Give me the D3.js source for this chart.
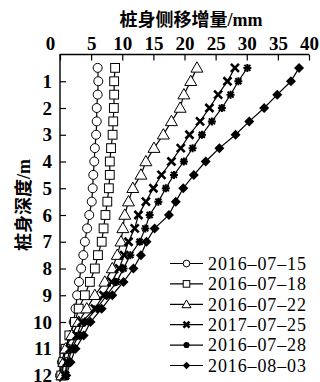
<!DOCTYPE html>
<html>
<head>
<meta charset="utf-8">
<script src="https://cdn.jsdelivr.net/npm/d3@7"></script>
<style>
    body { margin: 0; background: #fff; }
    svg { display: block; }
</style>
</head>
<body>
<div id="chart"></div>
<script>
const WIDTH = 320;
const HEIGHT = 382;

// depth below pile top (m)
const depths = [0.5, 1, 1.5, 2, 2.5, 3, 3.5, 4, 4.5, 5, 5.5, 6,
    6.5, 7, 7.5, 8, 8.5, 9, 9.5, 10, 10.5, 11, 11.5, 12];

const seriesNames = ["2016\u201307\u201315", "2016\u201307\u201318", "2016\u201307\u201322",
    "2017\u201307\u201325", "2016\u201307\u201328", "2016\u201308\u201303"];

// lateral displacement increment (mm) per depth
const s0715 = [6.05, 6.15, 6.05, 5.9, 5.9, 5.8, 5.6, 5.5, 5.35, 5.25, 5.1, 4.7,
    4.35, 4.0, 3.75, 3.4, 3.05, 2.75, 2.5, 2.2, 1.6, 0.8, 0.3, 0.0];
const s0718 = [8.85, 8.7, 8.7, 8.65, 8.55, 8.45, 8.2, 8.0, 8.0, 7.85, 7.6, 7.3,
    7.0, 6.7, 6.1, 5.6, 4.8, 4.0, 3.0, 2.4, 1.5, 0.9, 0.5, 0.2];
const s0722 = [22.0, 21.0, 19.9, 19.3, 17.9, 16.6, 15.1, 13.8, 13.0, 11.7, 11.0, 10.4,
    10.1, 9.8, 9.2, 8.4, 7.2, 5.6, 4.3, 3.0, 1.9, 0.9, 0.6, 0.3];
const s0725 = [28.1, 26.9, 25.4, 24.0, 22.5, 20.8, 19.4, 17.9, 16.3, 15.0, 13.8, 12.6,
    12.0, 11.0, 10.3, 9.5, 8.3, 7.0, 5.6, 3.5, 2.7, 1.6, 1.1, 0.8];
const s0728 = [30.1, 28.65, 27.4, 26.0, 24.4, 22.8, 21.3, 19.9, 18.3, 17.0, 15.8, 14.4,
    13.7, 12.8, 11.3, 10.2, 9.1, 7.5, 5.9, 4.0, 3.0, 1.9, 1.3, 0.9];
const s0803 = [38.4, 37.1, 34.9, 32.8, 30.4, 28.2, 25.6, 23.4, 21.5, 19.8, 18.6, 17.5,
    15.2, 13.9, 13.0, 11.8, 10.2, 8.4, 6.7, 4.9, 3.8, 2.5, 1.7, 1.0];

const xTicks = [0, 5, 10, 15, 20, 25, 30, 35, 40];
const yTicks = [1, 2, 3, 4, 5, 6, 7, 8, 9, 10, 11, 12];

const markers = ["circle", "square", "triangle", "cross", "star", "diamond"];
const allValues = [s0715, s0718, s0722, s0725, s0728, s0803];

const series = seriesNames.map((name, i) => ({
    name: name,
    marker: markers[i],
    points: depths.map((d, j) => ({ depth: d, value: allValues[i][j] }))
}));

const margin = { top: 54.5, left: 60, right: 11 };

const x = d3.scaleLinear()
    .domain([0, 40])
    .range([margin.left, WIDTH - margin.right]);

const y = d3.scaleLinear()
    .domain([0, 12])
    .range([margin.top, 375.5]);

const svg = d3.select("#chart").append("svg")
    .attr("width", WIDTH)
    .attr("height", HEIGHT);

// marker drawing
function drawMarker(sel, type, s) {
    sel.each(function() {
        const g = d3.select(this);
        if (type === "circle") {
            g.append("circle").attr("r", 4.5 * s)
                .attr("fill", "#fff").attr("stroke", "#000").attr("stroke-width", 1);
        } else if (type === "square") {
            g.append("rect").attr("x", -4.4 * s).attr("y", -4.4 * s)
                .attr("width", 8.8 * s).attr("height", 8.8 * s)
                .attr("fill", "#fff").attr("stroke", "#000").attr("stroke-width", 1);
        } else if (type === "triangle") {
            g.append("path").attr("d", d3.symbol().type(d3.symbolTriangle).size(62 * s * s)())
                .attr("transform", "translate(0,0.8)")
                .attr("fill", "#fff").attr("stroke", "#000").attr("stroke-width", 1);
        } else if (type === "cross") {
            const r = 4 * s;
            g.append("path").attr("d", `M${-r},${-r}L${r},${r}M${-r},${r}L${r},${-r}`)
                .attr("stroke", "#000").attr("stroke-width", 2.6);
        } else if (type === "star") {
            const r = 4 * s, q = 3 * s;
            g.append("path").attr("d",
                `M${-q},${-q}L${q},${q}M${-q},${q}L${q},${-q}M0,${-r}L0,${r}M${-r},0L${r},0`)
                .attr("stroke", "#000").attr("stroke-width", 2);
        } else if (type === "diamond") {
            const r = 5 * s;
            g.append("path").attr("d", `M0,${-r}L${r},0L0,${r}L${-r},0Z`)
                .attr("fill", "#000");
        }
    });
}

// axes
const xAxis = d3.axisTop(x)
    .tickValues(xTicks)
    .tickSize(-6)
    .tickPadding(5);

const yAxis = d3.axisLeft(y)
    .tickValues(yTicks)
    .tickSize(-6)
    .tickPadding(8);

const xAxisContainer = svg.append("g")
    .attr("class", "x axis")
    .attr("transform", "translate(0," + margin.top + ")")
    .call(xAxis);

const yAxisContainer = svg.append("g")
    .attr("class", "y axis")
    .attr("transform", "translate(" + margin.left + ",0)")
    .call(yAxis);

[xAxisContainer, yAxisContainer].forEach(ax => {
    ax.select(".domain").remove();
    ax.attr("font-family", "'Liberation Serif', serif")
        .attr("font-size", 19)
        .attr("font-weight", "bold");
    ax.selectAll(".tick line").attr("stroke", "#000").attr("stroke-width", 1.2);
    ax.selectAll(".tick text").attr("fill", "#000");
});

// "0" label sits left of the corner
xAxisContainer.selectAll(".tick").filter(d => d === 0)
    .select("text").attr("dx", -10);

svg.append("path")
    .attr("d", `M${x(40)},${margin.top}H${margin.left}V${HEIGHT + 5}`)
    .attr("fill", "none")
    .attr("stroke", "#000")
    .attr("stroke-width", 1.4);

// titles
svg.append("text")
    .attr("x", 191)
    .attr("y", 26)
    .attr("text-anchor", "middle")
    .attr("font-family", "'Liberation Serif', 'Noto Sans CJK SC', serif")
    .attr("font-weight", "bold")
    .attr("font-size", 18)
    .text("桩身侧移增量/mm");

svg.append("text")
    .attr("transform", "translate(30,205) rotate(-90)")
    .attr("text-anchor", "middle")
    .attr("font-family", "'Liberation Serif', 'Noto Sans CJK SC', serif")
    .attr("font-weight", "bold")
    .attr("font-size", 18)
    .text("桩身深度/m");

// lines and markers
const line = d3.line()
    .x(d => x(d.value))
    .y(d => y(d.depth));

const seriesG = svg.selectAll(".series")
    .data(series)
    .enter().append("g")
    .attr("class", "series");

seriesG.append("path")
    .attr("d", d => line(d.points))
    .attr("fill", "none")
    .attr("stroke", "#000")
    .attr("stroke-width", 1.2);

seriesG.each(function(s) {
    d3.select(this).selectAll(".pt")
        .data(s.points)
        .enter().append("g")
        .attr("class", "pt")
        .attr("transform", d => "translate(" + x(d.value) + "," + y(d.depth) + ")")
        .call(drawMarker, s.marker, 1);
});

// legend
const legend = svg.append("g")
    .attr("class", "legend")
    .attr("transform", "translate(170,263.5)");

const item = legend.selectAll(".item")
    .data(series)
    .enter().append("g")
    .attr("class", "item")
    .attr("transform", (d, i) => "translate(0," + (i * 20.4) + ")");

item.append("line")
    .attr("x1", 0).attr("x2", 33)
    .attr("stroke", "#000")
    .attr("stroke-width", 1.2);

item.append("g")
    .attr("transform", "translate(16.5,0)")
    .each(function(d) { d3.select(this).call(drawMarker, d.marker, 0.75); });

item.append("text")
    .attr("x", 38)
    .attr("dy", "0.35em")
    .attr("font-family", "'Liberation Serif', serif")
    .attr("font-size", 18)
    .attr("textLength", 98)
    .attr("lengthAdjust", "spacing")
    .text(d => d.name);
</script>
</body>
</html>
